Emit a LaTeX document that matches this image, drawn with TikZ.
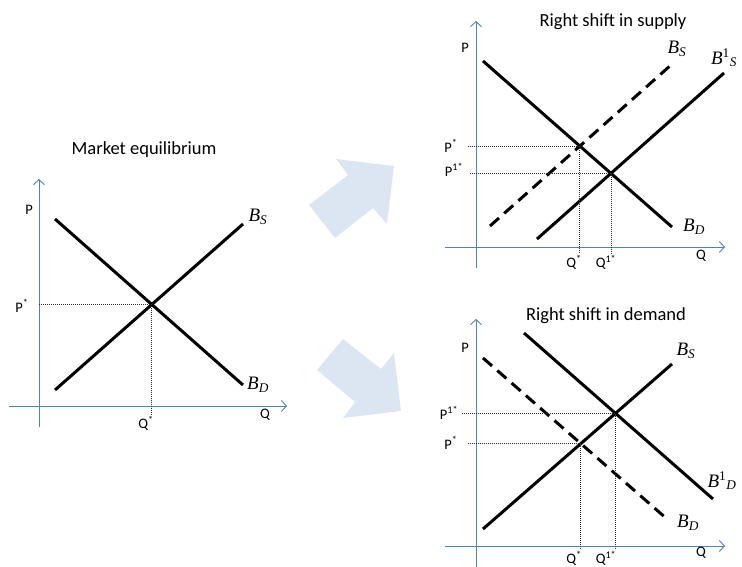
\documentclass[tikz,border=0pt]{standalone}
\usepackage{fontspec}
\setmainfont{Carlito}
\newfontfamily\tms{Liberation Serif}
\usepackage{tikz}
\usetikzlibrary{arrows.meta,calc}
\definecolor{axisblue}{HTML}{4F81BD}
\definecolor{pale}{HTML}{DCE6F2}
\definecolor{guidegray}{HTML}{303030}
\tikzset{
  axisline/.style = {draw=axisblue, line width=0.9pt, -{Straight Barb[length=5pt,width=11pt]}},
  curveline/.style= {draw=black, line width=3pt},
  oldline/.style  = {curveline, dash pattern=on 12pt off 7pt},
  guide/.style    = {draw=guidegray, line width=0.9pt, dash pattern=on 1pt off 1pt},
  ax/.style       = {font=\fontsize{14.5}{16}\selectfont, inner sep=1pt},
  cl/.style       = {font=\tms\itshape\fontsize{19}{21}\selectfont, inner sep=1pt},
  ttl/.style      = {font=\fontsize{18.5}{21}\selectfont, inner sep=1pt},
  bigarrow/.style = {fill=pale, draw=none},
}

\begin{document}
\begin{tikzpicture}[x=1pt,y=-1pt]
\useasboundingbox (0,0) rectangle (742,567);
% market equilibrium
\node[ttl] (t0) at (144,150) {Market equilibrium};
\coordinate (o0) at (39,427);
\coordinate (y0) at (39,179);
\coordinate (xa0) at (9,406);
\coordinate (xb0) at (287,406);
\draw[axisline] (o0) -- (y0);
\draw[axisline] (xa0) -- (xb0);
\coordinate (d0a) at (55,219); \coordinate (d0b) at (243,385);
\coordinate (s0a) at (55,390); \coordinate (s0b) at (243,224);
\draw[curveline] (d0a) -- (d0b);
\draw[curveline] (s0a) -- (s0b);
\coordinate (e0) at (intersection of d0a--d0b and s0a--s0b);
\node[ax] (p0) at (29,210) {P};
\node[ax] (q0) at (265,415) {Q};
\node[ax] (ps0) at (22,306) {P\textsuperscript{*}};
\node[ax] (qs0) at (146,423) {Q\textsuperscript{*}};
\draw[guide] (o0 |- e0) -- (e0) -- (e0 |- qs0.north);
\node[cl] (bs0) at (258,217) {B\textsubscript{S}};
\node[cl] (bd0) at (258,385) {B\textsubscript{D}};
% arrows
\fill[bigarrow] (309,205) -- (348,175) -- (336,159) -- (394,166) -- (387,224)
  -- (373,208) -- (335,238) -- cycle;
\fill[bigarrow] (317,370) -- (343,339) -- (381,369) -- (394,353) -- (401,411)
  -- (343,418) -- (355,402) -- cycle;
% right shift in supply
\node[ttl] (t1) at (613,22) {Right shift in supply};
\coordinate (o1) at (476,268);
\coordinate (y1) at (476,21);
\coordinate (xa1) at (445,247);
\coordinate (xb1) at (725,247);
\draw[axisline] (o1) -- (y1);
\draw[axisline] (xa1) -- (xb1);
\coordinate (d1a) at (483,61); \coordinate (d1b) at (672,227);
\coordinate (s1a) at (490,226); \coordinate (s1b) at (671,65);
\coordinate (n1a) at (537,239); \coordinate (n1b) at (724,73);
\draw[oldline] (s1a) -- (s1b);
\draw[curveline] (d1a) -- (d1b);
\draw[curveline] (n1a) -- (n1b);
\coordinate (e1) at (intersection of d1a--d1b and s1a--s1b);
\coordinate (f1) at (intersection of d1a--d1b and n1a--n1b);
\node[ax] (p1) at (465,48) {P};
\node[ax] (q1) at (701,256) {Q};
\node[ax] (ps1) at (451,146) {P\textsuperscript{*}};
\node[ax] (pn1) at (454,170) {P\textsuperscript{1*}};
\node[ax] (qs1) at (574,262) {Q\textsuperscript{*}};
\node[ax] (qn1) at (606,262) {Q\textsuperscript{1*}};
\draw[guide] ([xshift=9pt]ps1.east |- e1) -- (e1) -- (e1 |- qs1.north);
\draw[guide] ([xshift=6pt]pn1.east |- f1) -- (f1) -- (f1 |- qn1.north);
\node[cl] (bs1) at (677,49) {B\textsubscript{S}};
\node[cl] (bn1) at (724,58) {B\textsuperscript{\upshape 1}\textsubscript{S}};
\node[cl] (bd1) at (694,227) {B\textsubscript{D}};
% right shift in demand
\node[ttl] (t2) at (606,316) {Right shift in demand};
\coordinate (o2) at (476,567);
\coordinate (y2) at (476,319);
\coordinate (xa2) at (445,546);
\coordinate (xb2) at (725,546);
\draw[axisline] (o2) -- (y2);
\draw[axisline] (xa2) -- (xb2);
\coordinate (s2a) at (483,529); \coordinate (s2b) at (672,364);
\coordinate (d2a) at (483,358); \coordinate (d2b) at (667,519);
\coordinate (n2a) at (524,333); \coordinate (n2b) at (713,499);
\draw[oldline] (d2a) -- (d2b);
\draw[curveline] (s2a) -- (s2b);
\draw[curveline] (n2a) -- (n2b);
\coordinate (e2) at (intersection of s2a--s2b and d2a--d2b);
\coordinate (f2) at (intersection of s2a--s2b and n2a--n2b);
\node[ax] (p2) at (465,348) {P};
\node[ax] (q2) at (701,553) {Q};
\node[ax] (pn2) at (449,413) {P\textsuperscript{1*}};
\node[ax] (ps2) at (451,443) {P\textsuperscript{*}};
\node[ax] (qs2) at (574,558) {Q\textsuperscript{*}};
\node[ax] (qn2) at (606,558) {Q\textsuperscript{1*}};
\draw[guide] ([xshift=3pt]pn2.east |- f2) -- (f2) -- (f2 |- qn2.north);
\draw[guide] ([xshift=9pt]ps2.east |- e2) -- (e2) -- (e2 |- qs2.north);
\node[cl] (bs2) at (686,351) {B\textsubscript{S}};
\node[cl] (bn2) at (722,481) {B\textsuperscript{\upshape 1}\textsubscript{D}};
\node[cl] (bd2) at (688,523) {B\textsubscript{D}};
\end{tikzpicture}
\end{document}
